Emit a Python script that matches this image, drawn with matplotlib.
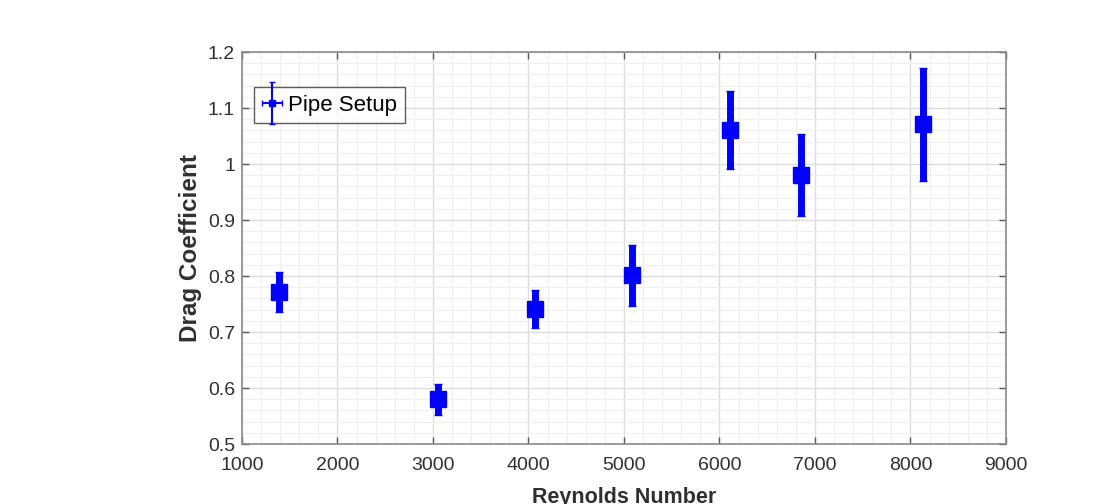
import matplotlib

matplotlib.use("Agg")
import matplotlib.pyplot as plt
from matplotlib.legend_handler import HandlerErrorbar
from matplotlib.ticker import FuncFormatter, MultipleLocator

plt.rcParams["font.family"] = ["Liberation Sans", "DejaVu Sans"]

reynolds = [1387, 3052, 4063, 5084, 6105, 6853, 8126]
drag_coeff = [0.771, 0.580, 0.741, 0.801, 1.061, 0.981, 1.071]
drag_err = [0.036, 0.028, 0.034, 0.055, 0.070, 0.073, 0.101]
reynolds_err = [30, 30, 30, 30, 30, 30, 30]

AXIS_GRAY = "#5a5a5a"
TEXT_GRAY = "#303030"

fig = plt.figure(figsize=(10.93, 5.04), dpi=100)
ax = fig.add_axes([0.2214, 0.119, 0.699, 0.7778])

ax.errorbar(
    reynolds,
    drag_coeff,
    yerr=drag_err,
    xerr=reynolds_err,
    fmt="s",
    color="#0000ff",
    ecolor="#0000ff",
    elinewidth=5,
    capsize=3,
    capthick=1,
    markersize=11,
    label="Pipe Setup",
    zorder=5,
)

ax.set_xlim(1000, 9000)
ax.set_ylim(0.5, 1.2)
ax.xaxis.set_major_locator(MultipleLocator(1000))
ax.xaxis.set_minor_locator(MultipleLocator(200))
ax.yaxis.set_major_locator(MultipleLocator(0.1))
ax.yaxis.set_minor_locator(MultipleLocator(0.02))
ax.yaxis.set_major_formatter(FuncFormatter(lambda v, _: f"{v:g}"))

ax.grid(which="major", color="#dcdcdc", linewidth=1.0)
ax.grid(which="minor", color="#efefef", linewidth=0.8)
ax.set_axisbelow(True)

ax.tick_params(
    which="major", direction="in", length=5, width=1, color=AXIS_GRAY,
    top=True, right=True, labelsize=14, labelcolor=TEXT_GRAY,
)
ax.tick_params(axis="x", which="major", pad=9)
ax.tick_params(axis="y", which="major", pad=5)
ax.tick_params(which="minor", length=0, top=True, right=True)
for spine in ax.spines.values():
    spine.set_color("#8a8a8a")
    spine.set_linewidth(1.2)

ax.set_xlabel("Reynolds Number", fontsize=15.5, fontweight="bold",
              color=TEXT_GRAY, labelpad=10)
ax.set_ylabel("Drag Coefficient", fontsize=17.5, fontweight="bold",
              color=TEXT_GRAY, labelpad=4)


def _thin(legend_artist, orig):
    # legend icon uses thin error bars and a small marker
    legend_artist.update_from(orig)
    legend_artist.set_linewidth(1.5)
    if hasattr(legend_artist, "set_markersize"):
        legend_artist.set_markersize(5)


leg = ax.legend(
    loc="upper left",
    bbox_to_anchor=(0.0157, 0.911),
    borderaxespad=0,
    fontsize=16,
    frameon=True,
    fancybox=False,
    edgecolor="#333333",
    handlelength=0.9,
    handletextpad=0.3,
    borderpad=0.35,
    handler_map={
        type(ax.containers[0]): HandlerErrorbar(xerr_size=0.45, yerr_size=0.95,
                                                update_func=_thin)
    },
)
leg.get_frame().set_linewidth(1.0)

fig.savefig("out.png", dpi=100)
